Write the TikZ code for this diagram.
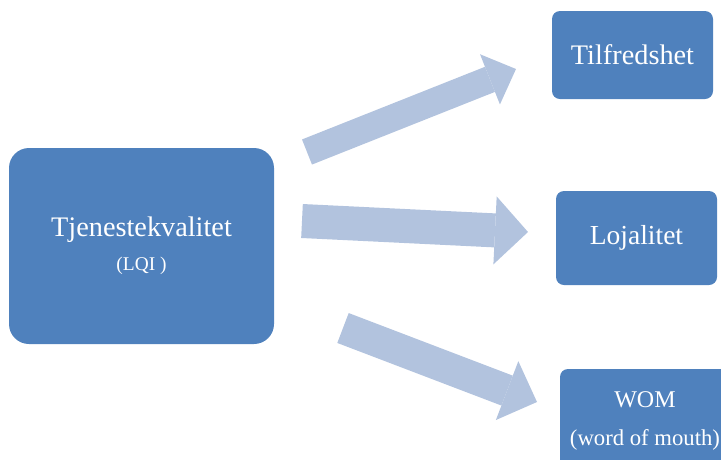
\documentclass[tikz,border=0pt]{standalone}
\usepackage{fontspec}
\setmainfont{Liberation Serif}
\usepackage{xcolor}
\usepackage{tikz}
\usetikzlibrary{arrows.meta}

\definecolor{boxblue}{RGB}{79,129,189}
\definecolor{flowblue}{RGB}{178,195,222}

\begin{document}
\begin{tikzpicture}[
        x=1pt, y=-1pt,
        every node/.style={text=white, inner sep=0pt},
        bigbox/.style={rectangle, fill=boxblue, rounded corners=20pt, align=center, minimum width=265pt, minimum height=196pt},
        smallbox/.style={rectangle, fill=boxblue, rounded corners=8pt, align=center, minimum width=161pt, minimum height=88pt},
        flow/.style={draw=flowblue, line cap=butt, line width=#1}
    ]
        \useasboundingbox (0,0) rectangle (721,459);

        \node[bigbox, font=\fontsize{28.3}{34}\selectfont] (tjeneste) at (141.5,246) {Tjenestekvalitet\\\fontsize{19.4}{24}\selectfont (LQI )};
        \node[smallbox, font=\fontsize{28.3}{33}\selectfont] (tilfreds) at (632.5,55) {Tilfredshet};
        \node[smallbox, minimum height=94pt, font=\fontsize{27.5}{33}\selectfont] (lojal) at (636.5,238) {Lojalitet};
        \node[smallbox, minimum width=170pt, minimum height=104pt, font=\fontsize{24}{38}\selectfont] (wom) at (645,421) {WOM\\\fontsize{22.7}{28}\selectfont (word of mouth)};

        % arrow ends
        \coordinate (t1) at (307,152);
        \coordinate (h1) at (516,69);
        \coordinate (t2) at (302,221);
        \coordinate (h2) at (528,232);
        \coordinate (t3) at (343,328);
        \coordinate (h3) at (537,402);

        \draw[flow=27pt, -{Triangle[length=28pt, width=54pt, line width=0pt, fill=flowblue]}] (t1) -- (h1);
        \draw[flow=34pt, -{Triangle[length=33pt, width=68pt, line width=0pt, fill=flowblue]}] (t2) -- (h2);
        \draw[flow=32pt, -{Triangle[length=32pt, width=63pt, line width=0pt, fill=flowblue]}] (t3) -- (h3);
    \end{tikzpicture}
\end{document}
